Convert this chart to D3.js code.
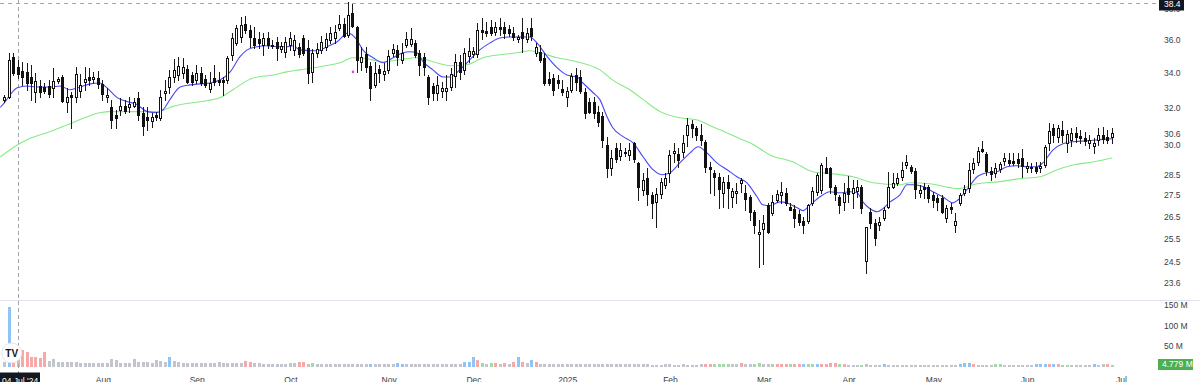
<!DOCTYPE html>
<html><head><meta charset="utf-8">
<script src="https://cdn.jsdelivr.net/npm/d3@7"></script>
<style>html,body{margin:0;padding:0;background:#fff;overflow:hidden}svg{display:block}</style>
</head><body>
<svg id="c" width="1200" height="382"></svg>
<script>
// ---------- DATA (daily OHLC) ----------
const open = [32.46,32.62,34.97,34.37,34.12,34.06,33.76,32.91,33.24,33.18,
33.24,33.13,33.52,33.76,32.30,32.73,32.62,32.96,33.47,33.76,
33.64,33.70,33.36,32.62,32.02,31.62,31.90,32.08,32.02,32.13,
32.57,31.73,31.51,31.28,31.62,31.45,32.85,33.18,33.76,33.88,
34.00,34.24,33.88,33.58,34.00,33.64,33.07,33.70,33.58,33.58,
33.58,35.09,35.82,36.19,37.03,36.64,36.12,36.06,35.70,36.12,
35.64,35.88,35.45,35.27,35.70,35.39,35.58,36.12,35.52,34.06,
35.21,35.39,35.58,36.00,36.12,36.77,37.03,36.31,37.75,36.84,
34.67,35.15,34.43,33.30,34.24,33.94,34.18,35.21,35.39,34.79,
35.70,35.76,35.82,35.21,34.97,33.76,33.24,32.85,32.96,32.96,
33.18,33.82,34.67,34.18,35.03,35.15,35.15,36.64,36.57,36.84,
36.51,36.84,36.84,36.71,36.44,36.06,36.51,36.06,36.77,35.21,
35.27,34.91,33.64,33.70,33.58,33.07,32.62,33.02,33.88,33.76,
32.91,32.35,32.30,31.79,31.57,30.00,28.84,29.86,29.44,29.65,
29.49,30.12,29.08,27.76,28.35,27.51,27.18,27.56,28.00,28.59,
29.59,29.54,29.65,30.54,31.12,30.91,30.54,30.17,28.89,28.59,
28.39,27.61,28.15,27.42,27.61,28.10,27.61,27.42,26.72,25.72,
25.94,27.04,26.67,27.27,27.51,27.61,26.95,26.86,26.63,26.31,
26.31,27.13,27.66,27.76,28.84,28.84,27.91,27.42,27.18,27.86,
27.61,27.71,27.91,24.51,26.72,26.22,26.12,26.45,26.95,27.91,
28.10,28.39,28.98,28.89,28.69,27.61,27.91,27.91,27.51,27.37,
27.37,26.45,26.95,26.12,27.13,27.61,27.86,28.79,29.13,29.80,
29.54,28.69,28.59,28.79,29.18,29.23,29.18,29.28,29.33,28.84,
28.89,28.89,28.84,28.98,30.12,30.91,30.44,30.80,30.12,30.28,
30.65,30.49,30.39,30.12,29.96,30.28,30.54,30.44,30.44];
const high = [32.73,35.21,35.21,34.79,34.67,34.61,34.49,34.00,33.58,33.41,
33.58,34.31,33.76,33.88,33.13,32.91,34.37,33.94,34.37,34.31,
34.06,34.12,33.58,33.13,32.46,31.90,32.57,32.46,32.62,32.57,
32.91,32.02,32.02,31.73,31.79,33.02,33.58,34.18,34.85,34.97,
34.91,34.49,34.06,34.49,34.37,33.88,34.06,34.49,34.06,33.76,
35.03,36.44,36.97,37.49,37.55,36.97,36.84,36.51,36.44,36.51,
36.00,36.19,35.88,36.19,36.51,36.31,35.82,36.31,36.00,35.45,
35.82,36.25,36.44,36.84,36.97,37.62,37.42,38.46,38.33,36.90,
35.58,35.58,34.67,34.67,34.49,34.61,35.39,35.76,35.70,35.82,
36.51,36.77,36.00,35.39,35.21,33.88,33.41,33.82,33.47,33.88,
34.31,35.15,35.09,35.52,36.12,35.58,37.10,37.42,37.16,37.29,
37.16,37.42,37.16,36.97,36.84,36.31,37.42,36.77,37.42,35.82,
35.70,35.21,34.06,33.94,33.88,33.58,33.18,34.00,34.31,34.18,
33.13,32.57,32.62,32.08,31.79,30.44,29.75,30.12,30.12,29.86,
30.12,30.17,29.13,28.59,28.84,27.66,27.86,28.35,28.59,29.75,
30.12,29.86,30.54,31.45,31.33,31.02,31.12,30.28,29.13,28.74,
28.59,28.39,28.49,27.86,28.10,28.35,28.00,27.51,26.81,26.36,
26.58,27.13,27.51,27.76,28.15,27.86,27.13,27.04,26.81,26.49,
27.09,27.91,28.59,29.08,29.38,28.89,28.00,27.51,28.10,28.44,
28.25,28.25,28.00,26.03,26.91,26.40,26.49,26.95,28.64,28.59,
28.59,29.13,29.49,28.98,28.84,28.00,28.10,28.00,27.66,27.51,
27.51,27.04,27.13,26.67,27.61,28.00,29.08,29.33,29.91,30.22,
29.65,28.89,29.08,29.13,29.59,29.59,29.59,29.59,29.80,29.13,
29.08,29.13,29.13,30.00,31.17,31.12,31.07,31.28,30.80,30.91,
30.96,30.80,30.70,30.54,30.39,30.91,30.96,30.80,30.91];
const low = [32.35,32.57,33.88,33.70,33.30,33.02,32.46,32.35,32.62,32.85,
32.62,32.62,33.41,32.30,31.79,30.91,32.35,32.62,33.02,33.30,
33.41,33.13,32.46,32.30,30.91,30.91,31.62,31.73,31.79,32.02,
31.33,30.54,30.80,30.96,31.33,31.33,32.46,32.85,33.47,33.58,
33.70,33.41,33.30,33.41,33.30,33.18,32.91,33.30,33.30,32.73,
33.41,34.79,35.70,35.88,36.44,35.58,35.52,35.52,35.09,35.52,
35.52,34.79,35.27,34.97,35.39,35.09,34.97,35.09,33.41,33.47,
34.97,35.21,35.39,35.82,35.82,36.64,36.19,36.19,36.84,34.06,
34.18,34.06,32.46,33.18,33.47,33.58,34.00,35.03,34.49,34.61,
35.58,35.64,34.97,33.88,33.88,32.19,32.46,32.46,32.62,32.46,
33.02,33.18,33.64,33.94,34.67,34.97,34.97,36.06,36.25,36.31,
36.31,36.31,36.12,36.25,36.00,35.88,35.27,35.88,36.00,35.03,
34.67,33.30,33.30,32.73,33.13,32.73,32.13,32.91,33.02,32.85,
31.45,31.73,31.45,31.02,29.91,28.39,28.49,29.13,29.23,29.44,
29.23,29.13,27.27,27.51,27.04,26.45,26.03,27.37,27.86,28.15,
29.13,28.89,29.38,29.96,30.44,30.28,30.00,28.64,27.61,27.51,
26.91,26.95,26.91,26.95,27.13,27.66,26.81,26.36,25.76,24.29,
24.38,25.76,26.58,27.18,27.13,27.04,26.81,26.03,26.12,25.76,
26.22,27.04,27.51,27.61,28.59,27.61,27.27,26.67,26.81,27.18,
26.91,27.42,26.67,24.04,25.99,25.23,25.90,26.36,26.91,27.86,
28.00,28.25,28.84,28.59,27.37,27.42,27.37,27.18,26.95,26.81,
26.67,26.26,26.67,25.81,27.04,27.51,27.66,28.59,28.98,29.65,
28.49,28.25,28.39,28.64,28.98,28.98,28.98,28.89,28.39,28.64,
28.64,28.59,28.64,28.89,29.75,30.17,30.17,30.17,29.65,29.96,
30.17,30.12,30.00,29.86,29.59,30.00,30.12,30.12,30.12];
const close = [32.62,34.79,34.00,33.94,33.76,33.41,33.41,33.52,32.91,32.96,
32.79,33.52,33.64,32.40,32.62,32.62,33.94,33.30,33.64,33.58,
33.76,33.36,32.79,32.73,31.33,31.45,32.13,31.84,32.24,32.30,
31.62,31.02,31.33,31.51,31.51,32.62,32.96,33.76,34.18,34.43,
34.37,33.47,33.47,34.00,33.41,33.30,33.41,33.47,33.47,33.47,
34.91,36.12,36.77,36.97,36.64,36.19,35.70,35.82,36.12,35.70,
35.70,35.52,35.64,35.88,36.12,36.00,35.15,35.21,34.00,35.21,
35.45,35.88,36.06,36.44,36.51,37.03,36.25,37.62,36.90,34.79,
34.97,34.37,33.13,34.00,34.00,34.12,35.03,35.45,34.97,35.21,
36.06,36.06,35.09,34.49,34.37,32.62,32.85,33.30,33.13,33.13,
33.94,34.67,34.06,35.21,35.33,35.33,36.64,36.51,36.44,36.44,
36.84,36.71,36.44,36.44,36.19,36.19,36.12,36.44,36.25,35.58,
34.79,33.41,33.41,33.02,33.41,32.91,32.96,33.82,33.47,32.96,
31.73,31.79,31.73,31.23,30.28,28.84,29.33,29.28,29.75,29.59,
29.75,29.28,27.91,28.25,27.56,27.13,27.56,28.15,28.35,29.49,
29.70,29.23,30.12,31.07,30.91,30.54,30.28,28.89,28.79,28.39,
27.81,28.15,27.86,27.71,27.71,28.25,27.32,26.72,26.12,25.81,
26.22,25.81,27.18,27.56,27.66,27.13,26.81,26.45,26.26,26.12,
27.04,27.71,28.49,28.98,28.59,27.91,27.56,27.04,27.61,27.56,
27.86,27.91,26.91,26.03,26.22,25.53,26.26,26.81,27.91,28.10,
28.35,28.74,29.13,28.69,27.81,27.76,27.81,27.37,27.27,27.18,
26.72,26.91,26.86,26.31,27.51,27.81,28.74,29.08,29.70,29.70,
28.69,28.54,28.84,29.03,29.33,29.08,29.08,29.08,28.94,28.94,
28.84,28.69,28.94,29.91,30.75,30.54,30.91,30.54,30.60,30.65,
30.44,30.39,30.22,30.28,30.12,30.54,30.33,30.28,30.65];
// volume in millions
const volume = [10,144,30,40,40,35,23,24,21,36,
14,18,12,12,10,11,10,9,9,9,
9,9,9,9,19,15,9,9,9,18,
12,10,10,9,15,14,11,23,13,10,
9,9,8,8,8,9,9,9,10,9,
9,8,8,9,13,12,8,8,7,7,
7,7,7,7,8,8,11,10,7,9,
6,6,6,6,6,6,6,6,6,6,
7,6,7,6,6,6,6,6,8,7,
6,6,6,6,7,6,6,6,6,6,
6,6,6,10,12,22,15,8,7,8,
8,6,8,6,10,24,11,8,16,10,
6,6,6,6,5,5,6,5,5,5,
5,5,5,5,5,5,5,5,5,5,
5,5,5,5,5,4,4,4,5,5,
4,4,5,4,4,4,5,7,7,6,
6,6,6,6,6,8,5,5,7,8,
5,5,6,7,7,6,6,6,6,6,
5,5,7,6,7,8,8,5,5,4,
4,4,4,5,4,4,4,6,4,4,
4,4,4,4,4,4,4,4,4,4,
4,4,4,4,6,9,8,6,4,4,
4,4,5,5,4,4,4,4,4,4,
4,5,5,5,5,7,5,4,4,4,
4,4,4,4,5,4,5,5,4.779];
// volume colour class per bar: g = neutral, r = red, u = green, b = blue
const volumeClass = ("gbrrrrrrrr"+"gggggggggg"+"gggggggggg"+"gggggggbgg"+"gggggggggg"+
"ggggrrgggg"+"ggggggrrgu"+"gggggggggg"+"ggbgggggbb"+"gggggggggg"+
"gggbbbrugu"+"rgrgrbrgbr"+"gggggggggg"+"gggggggggg"+"gggggggggg"+
"gggggggrru"+"uuuggrgguu"+"ggurrrurrb"+"uubrrrrurg"+"gguggggbgg"+
"gggggggggg"+"ggggbbbrgg"+"gguugggggg"+"gbbbrbruug"+"ggggbggru").split("");
// moving averages, read at bar positions
const fastMaIdx = [-1,0,1.2,2.8,5,7.2,10.1,12.4,14.6,16.9,19.1,21.3,22.9,25.2,27.4,29.6,31.9,34.1,35.5,37,39.3,41.5,43.7,46,48.2,50.5,52.7,54.3,56.5,58.7,61,63.2,64.6,66.1,70,72.2,74.4,76.9,78.9,80.2,82.5,84.7,87,89.2,90.8,92.3,93.7,95.9,98.2,99.7,101.9,104.2,106.4,108.7,110.9,113.2,115.4,117.6,119.2,121.5,123.7,125.9,128.2,129.5,131.8,133.3,134.9,136.2,138.5,140.7,143,145.2,147.2,149,151.2,153.5,155.3,157.3,159.5,161.8,164,166.2,168.5,169.8,171.4,173.6,175.2,177.4,178.8,180.4,182.6,184.8,187.1,189.3,190.9,192.2,193.8,195.4,196.7,198.3,200.5,202.1,203.4,205.7,207.9,210.1,212.4,213.5,215.5,217.8,220,222.2,224.5,226.7,229,231.2,232.5,234.8,237,239.3,242.4,245.3,248];
const fastMaVal = [32.02,32.30,32.73,33.13,33.24,33.18,33.18,33.24,33.02,33.18,33.36,33.41,33.13,32.57,32.35,32.19,31.79,31.73,31.90,32.46,33.18,33.30,33.36,33.41,33.58,34.06,34.97,35.39,35.58,35.64,35.58,35.58,35.64,35.39,35.33,35.58,35.88,36.44,36.00,35.39,34.91,34.61,34.91,35.21,35.27,35.21,34.67,34.18,33.76,33.76,34.18,34.79,35.39,35.82,36.12,36.19,36.19,36.19,35.82,34.97,34.31,33.88,33.76,33.41,32.85,32.46,31.51,30.91,30.44,30.12,29.38,28.74,28.49,28.59,29.08,29.59,29.91,29.59,29.08,28.74,28.39,28.10,27.42,27.04,27.00,27.18,27.13,26.91,26.77,27.04,27.42,27.66,27.61,27.66,27.61,27.18,26.86,26.72,26.86,27.18,27.51,28.00,28.00,27.91,27.66,27.42,27.13,27.27,27.76,28.39,28.59,28.64,28.89,28.94,28.89,28.89,29.08,29.75,30.07,30.17,30.22,30.28,30.33];
const slowMaIdx = [-1,2.8,5,10.1,15.1,21.3,23.6,28.7,34.1,37.7,40.8,45.3,48.2,51.1,55.6,60.1,63.2,66.1,70.6,75.1,78,81.1,84.7,88.5,92.3,95.9,99.7,103.5,107.1,110.9,114.7,117.6,119.9,123.7,128.2,133.3,136.2,140,143,146.8,151.2,155.1,158.6,160.2,164.7,166.9,171.4,176.6,181,185.5,190,194.5,200.5,202.8,207.2,211.7,213.5,217.8,222.9,227.4,231.9,235.7,239.3,243.7,248];
const slowMaVal = [29.38,30.00,30.28,30.70,31.17,31.73,31.79,31.79,31.79,32.08,32.24,32.40,32.57,33.02,33.70,33.88,34.06,34.18,34.37,34.61,34.91,34.85,34.67,34.79,34.91,34.67,34.43,34.49,34.91,35.09,35.21,35.33,35.21,34.91,34.67,34.18,33.58,33.02,32.46,31.79,31.45,31.33,30.96,30.80,30.33,30.12,29.49,29.13,28.64,28.54,28.39,28.10,28.00,28.10,28.05,27.86,27.81,28.05,28.15,28.30,28.39,28.74,28.98,29.13,29.33];
const markerIdx = [78], markerPrice = [34.06];
const priceTicks = [38.0, 36.0, 34.0, 32.0, 30.6, 30.0, 28.5, 27.5, 26.5, 25.5, 24.5, 23.6];
const volumeTicks = [150, 100, 50];
const monthIdx = [22, 43, 64, 86, 105, 126, 149, 170, 189, 208, 229, 250];
const monthLabels = ["Aug","Sep","Oct","Nov","Dec","2025","Feb","Mar","Apr","May","Jun","Jul"];
const crossIdx = 3, crossPrice = 38.4, crossDate = "04 Jul '24";
const lastVolume = 4.779;

// ---------- DRAW ----------
const W = 1200, H = 382;
const FONT = "'Liberation Sans', Arial, sans-serif";
const svg = d3.select("#c");
const x = d3.scaleLinear().domain([0, open.length - 1]).range([4.7, 1112]);
const y = d3.scaleLog().domain([23.6, 36]).range([283.2, 40]);
const v = d3.scaleLinear().domain([0, 150]).range([366.5, 305]);
const volFill = {g:"#c3c5cc", r:"#f7a8a8", u:"#a6d9a9", b:"#90c4f6"};

// pane separator
svg.append("line").attr("x1",0).attr("x2",W).attr("y1",300.5).attr("y2",300.5)
  .attr("stroke","#e0e3eb").attr("stroke-width",1);

// volume
svg.append("g").attr("shape-rendering","crispEdges")
  .selectAll("rect").data(volume).join("rect")
  .attr("x",(d,i)=>Math.floor(x(i))-1).attr("width",3)
  .attr("y",d=>v(d)).attr("height",d=>v(0)-v(d))
  .attr("fill",(d,i)=>volFill[volumeClass[i]]);

// crosshair
svg.append("line").attr("x1",0).attr("x2",1159)
  .attr("y1",Math.round(y(crossPrice))+0.5).attr("y2",Math.round(y(crossPrice))+0.5)
  .attr("stroke","#a3a6af").attr("stroke-dasharray","4 4");
svg.append("line").attr("x1",Math.floor(x(crossIdx))+0.5).attr("x2",Math.floor(x(crossIdx))+0.5)
  .attr("y1",0).attr("y2",373)
  .attr("stroke","#a3a6af").attr("stroke-dasharray","4 3");

// moving averages
const lineGen = d3.line().x(d=>x(d[0])).y(d=>y(d[1])).curve(d3.curveMonotoneX);
svg.append("path").datum(slowMaIdx.map((d,i)=>[d,slowMaVal[i]]))
  .attr("d",lineGen).attr("fill","none").attr("stroke","#86ea86").attr("stroke-width",1.1);
svg.append("path").datum(fastMaIdx.map((d,i)=>[d,fastMaVal[i]]))
  .attr("d",lineGen).attr("fill","none").attr("stroke","#4848f4").attr("stroke-width",1.1);

// candles
const cg = svg.append("g").attr("shape-rendering","crispEdges");
open.forEach((o,i)=>{
  const c = close[i], col = Math.floor(x(i));
  const hy = Math.round(y(high[i])), ly = Math.round(y(low[i]));
  const top = Math.round(y(Math.max(o,c))), bot = Math.round(y(Math.min(o,c)));
  cg.append("rect").attr("x",col).attr("y",hy).attr("width",1).attr("height",ly-hy+1).attr("fill","#1a1a1a");
  cg.append("rect").attr("x",col-1).attr("y",top).attr("width",3).attr("height",bot-top+1).attr("fill","#111");
  if (c >= o && bot-top >= 2) {
    cg.append("rect").attr("x",col).attr("y",top+1).attr("width",1).attr("height",bot-top-1).attr("fill","#fff");
  }
});

// marker
svg.selectAll("circle.mk").data(markerIdx).join("circle").attr("class","mk")
  .attr("cx",d=>x(d)).attr("cy",(d,i)=>y(markerPrice[i])).attr("r",1.3).attr("fill","#d04ce0");

// price axis
const pg = svg.append("g").attr("transform","translate(1164,0)")
  .call(d3.axisRight(y).tickValues(priceTicks).tickFormat(d3.format(".1f")).tickSize(0).tickPadding(0));
pg.select(".domain").remove();
pg.attr("font-family",FONT).attr("font-size",8.5);
pg.selectAll("text").attr("fill","#3a3d45");

// crosshair price label (covers the 38.0 tick as in the reference)
svg.append("rect").attr("x",1159).attr("y",-2).attr("width",25).attr("height",12.5).attr("fill","#131722");
svg.append("text").attr("x",1164).attr("y",y(crossPrice)+1.5).attr("dominant-baseline","middle")
  .attr("font-family",FONT).attr("font-size",8.5).attr("fill","#fff").text(d3.format(".1f")(crossPrice));

// volume axis
const vgAx = svg.append("g").attr("transform","translate(1164,0)")
  .call(d3.axisRight(v).tickValues(volumeTicks).tickFormat(d=>d+" M").tickSize(0).tickPadding(0));
vgAx.select(".domain").remove();
vgAx.attr("font-family",FONT).attr("font-size",8.5);
vgAx.selectAll("text").attr("fill","#3a3d45");

// last volume label
svg.append("rect").attr("x",1158).attr("y",359).attr("width",35).attr("height",11).attr("fill","#4caf50");
svg.append("text").attr("x",1162).attr("y",v(lastVolume)).attr("dominant-baseline","middle")
  .attr("font-family",FONT).attr("font-size",8.5).attr("fill","#fff").text(lastVolume + " M");

// time axis
const xg = svg.append("g").attr("transform","translate(0,375)")
  .call(d3.axisBottom(x).tickValues(monthIdx).tickFormat((d,i)=>monthLabels[i]).tickSize(0).tickPadding(2));
xg.select(".domain").remove();
xg.attr("font-family",FONT).attr("font-size",8.5);
xg.selectAll("text").attr("fill","#3a3d45");

// crosshair date label
svg.append("rect").attr("x",0).attr("y",372.5).attr("width",40).attr("height",12).attr("fill","#131722");
svg.append("text").attr("x",2).attr("y",384).attr("font-family",FONT).attr("font-size",8.5)
  .attr("fill","#fff").text(crossDate);

// logo
svg.append("circle").attr("cx",11.7).attr("cy",353).attr("r",10).attr("fill","#fff")
  .attr("stroke","#e3e5ea").attr("stroke-width",1);
svg.append("text").attr("x",11.7).attr("y",356.5).attr("text-anchor","middle")
  .attr("font-family",FONT).attr("font-size",10).attr("font-weight","900").attr("fill","#131722").text("TV");
</script>
</body></html>
